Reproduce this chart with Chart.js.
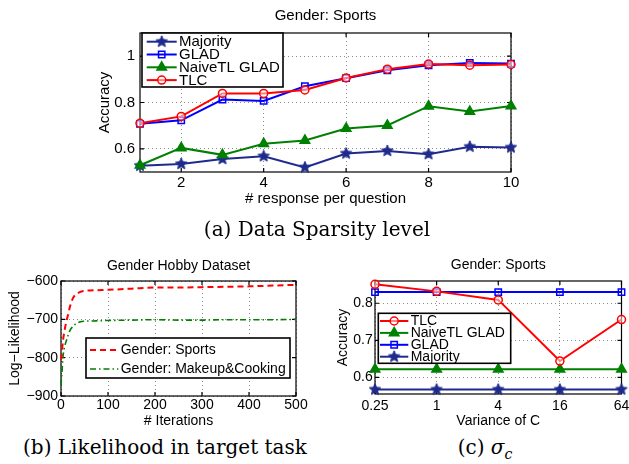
<!DOCTYPE html>
<html>
<head>
<meta charset="utf-8">
<script src="https://cdn.jsdelivr.net/npm/chart.js@4.4.1/dist/chart.umd.min.js"></script>
<style>
  body { margin:0; width:629px; height:464px; background:#fff; overflow:hidden; position:relative; }
  .box { position:absolute; }
  .cap { position:absolute; font-family:"DejaVu Serif", serif; font-size:20px; line-height:20px; color:#000; white-space:nowrap; text-align:center; }
  .cap sub { font-size:14px; line-height:0; }
</style>
</head>
<body>
<div class="box" style="left:0;top:0;width:629px;height:215px"><canvas id="chartA"></canvas></div>
<div class="box" style="left:0;top:240px;width:318px;height:192px"><canvas id="chartB"></canvas></div>
<div class="box" style="left:318px;top:240px;width:311px;height:192px"><canvas id="chartC"></canvas></div>
<div class="cap" style="left:117px;top:219px;width:400px">(a) Data Sparsity level</div>
<div class="cap" style="left:0;top:437px;width:330px">(b) Likelihood in target task</div>
<div class="cap" style="left:400px;top:437px;width:170px">(c) <i>σ</i><sub><i>c</i></sub></div>

<script>
// (a) accuracy vs # responses per question
const respPerQ    = [1, 2, 3, 4, 5, 6, 7, 8, 9, 10];
const accMajority = [0.527, 0.535, 0.556, 0.568, 0.520, 0.580, 0.591, 0.577, 0.609, 0.606];
const accGlad     = [0.708, 0.723, 0.813, 0.807, 0.870, 0.905, 0.939, 0.961, 0.971, 0.968];
const accNaive    = [0.529, 0.604, 0.574, 0.622, 0.636, 0.688, 0.701, 0.784, 0.761, 0.785];
const accTlc      = [0.710, 0.740, 0.839, 0.839, 0.854, 0.906, 0.944, 0.966, 0.961, 0.964];
const xTicksA = [2, 4, 6, 8, 10];
const yTicksA = [0.6, 0.8, 1];

// (b) log-likelihood vs iterations
const iterations = [0, 1, 2, 4, 7, 11, 15, 20, 25, 30, 40, 50, 75, 100, 150, 200, 250, 300, 350, 400, 450, 500];
const llSports   = [-805, -798, -785, -758, -733, -708, -688, -663, -646, -637, -629, -626, -624, -623, -620, -617, -617, -616, -615, -614, -612, -610];
const llMakeup   = [-872, -855, -840, -801, -775, -757, -742, -727, -719, -713, -707, -705, -704, -703, -702, -701, -702, -702, -701, -701, -701, -700];
const xTicksB = [0, 100, 200, 300, 400, 500];
const yTicksB = [-900, -800, -700, -600];

// (c) accuracy vs variance of C
const varianceC  = ['0.25', '1', '4', '16', '64'];
const cTlc       = [0.851, 0.832, 0.809, 0.644, 0.756];
const cNaive     = [0.622, 0.622, 0.622, 0.622, 0.622];
const cGlad      = [0.830, 0.830, 0.830, 0.830, 0.830];
const cMajority  = [0.567, 0.567, 0.567, 0.567, 0.567];
const yTicksC = [0.6, 0.7, 0.8];

const NAVY = '#1f2b8c', BLUE = '#0000ff', GREEN = '#008000', RED = '#ff0000';
const GRID = 'rgba(0,0,0,0.45)';

Chart.defaults.font.family = '"Liberation Sans", Arial, sans-serif';
Chart.defaults.color = '#000';

function starMarker(color, r) {
  const c = document.createElement('canvas');
  const s = Math.ceil(r * 2 + 2);
  c.width = s; c.height = s;
  const g = c.getContext('2d');
  g.beginPath();
  for (let i = 0; i < 10; i++) {
    const rad = i % 2 ? r * 0.45 : r;
    const ang = -Math.PI / 2 + i * Math.PI / 5;
    g.lineTo(s / 2 + rad * Math.cos(ang), s / 2 + rad * Math.sin(ang));
  }
  g.closePath();
  g.fillStyle = color; g.fill();
  g.strokeStyle = color; g.lineWidth = 1; g.stroke();
  return c;
}
const star = starMarker(NAVY, 6);

function pts(xs, ys) {
  return xs.map((x, i) => ({x: x, y: ys[i]}));
}

function setTicks(list) {
  return scale => { scale.ticks = list.map(v => ({value: v})); };
}

// box, inward ticks, title and boxed legend like the matlab figure
const matlabAxes = {
  id: 'matlabAxes',
  beforeDatasetsDraw(chart) {
    const {ctx, chartArea: a, scales} = chart;
    ctx.save();
    ctx.strokeStyle = '#000';
    ctx.lineWidth = 1.2;
    ctx.strokeRect(a.left, a.top, a.width, a.height);
    ctx.beginPath();
    scales.x.ticks.forEach((t, i) => {
      const px = scales.x.getPixelForTick(i);
      ctx.moveTo(px, a.bottom); ctx.lineTo(px, a.bottom - 4);
      ctx.moveTo(px, a.top); ctx.lineTo(px, a.top + 4);
    });
    scales.y.ticks.forEach((t, i) => {
      const py = scales.y.getPixelForTick(i);
      ctx.moveTo(a.left, py); ctx.lineTo(a.left + 4, py);
      ctx.moveTo(a.right, py); ctx.lineTo(a.right - 4, py);
    });
    ctx.stroke();
    ctx.restore();
  },
  afterDraw(chart, args, opts) {
    const {ctx, chartArea: a} = chart;
    ctx.save();
    ctx.font = opts.fontSize + 'px "Liberation Sans", Arial, sans-serif';
    ctx.fillStyle = '#000';
    ctx.textAlign = 'center';
    ctx.textBaseline = 'middle';
    ctx.fillText(opts.title, (a.left + a.right) / 2, opts.titleY);

    const lg = opts.legend;
    const bx = a.left + lg.x, by = a.top + lg.y;
    ctx.fillStyle = '#fff';
    ctx.fillRect(bx, by, lg.w, lg.h);
    ctx.strokeStyle = '#000';
    ctx.lineWidth = 1.6;
    ctx.strokeRect(bx, by, lg.w, lg.h);
    lg.order.forEach((di, row) => {
      const ds = chart.data.datasets[di];
      const y = by + lg.row0 + row * lg.dy;
      const x1 = a.left + lg.line[0], x2 = a.left + lg.line[1];
      ctx.save();
      ctx.strokeStyle = ds.borderColor;
      ctx.lineWidth = ds.borderWidth;
      ctx.setLineDash(ds.borderDash || []);
      ctx.beginPath(); ctx.moveTo(x1, y); ctx.lineTo(x2, y); ctx.stroke();
      ctx.setLineDash([]);
      if (ds.pointRadius > 0) {
        ctx.fillStyle = ds.pointBackgroundColor;
        ctx.strokeStyle = ds.pointBorderColor;
        ctx.lineWidth = ds.pointBorderWidth;
        Chart.helpers.drawPoint(ctx, {pointStyle: ds.pointStyle, radius: ds.pointRadius, rotation: 0, borderWidth: ds.pointBorderWidth}, (x1 + x2) / 2, y);
      }
      ctx.restore();
      ctx.fillStyle = '#000';
      ctx.textAlign = 'left';
      ctx.fillText(ds.label, a.left + lg.textX, y + 0.5);
    });
    ctx.restore();
  }
};

function series(label, data, color, style, radius, fill, order) {
  return {
    label: label, data: data, order: order,
    borderColor: color, borderWidth: 2, backgroundColor: color,
    pointStyle: style, pointRadius: radius, pointBorderWidth: 1.5,
    pointBackgroundColor: fill, pointBorderColor: color,
    clip: false
  };
}

function axis(font, tickPad, title, titlePad) {
  return {
    grid: { color: GRID, lineWidth: 1, drawTicks: false },
    border: { display: false, dash: [1, 3] },
    ticks: { font: {size: font}, padding: tickPad, maxRotation: 0, autoSkip: false },
    title: { display: true, text: title, font: {size: font}, padding: titlePad }
  };
}

// ---------- (a) ----------
const xA = axis(15, 2, '# response per question', {top: 0, bottom: 7});
Object.assign(xA, { type: 'linear', min: 1, max: 10, afterBuildTicks: setTicks(xTicksA),
  afterFit: s => { s.height = 43; s.paddingLeft = 0; s.paddingRight = 0; } });
const yA = axis(15, 5, 'Accuracy', {top: 6, bottom: 0});
Object.assign(yA, { type: 'linear', min: 0.5, max: 1.1, afterBuildTicks: setTicks(yTicksA),
  afterFit: s => { s.width = 50; } });
yA.ticks.callback = v => String(v);

new Chart(document.getElementById('chartA'), {
  type: 'line',
  data: {
    datasets: [
      series('Majority', pts(respPerQ, accMajority), NAVY, star, 6, NAVY, 3),
      series('GLAD', pts(respPerQ, accGlad), BLUE, 'rect', 4.5, 'rgba(255,255,255,0)', 2),
      series('NaiveTL GLAD', pts(respPerQ, accNaive), GREEN, 'triangle', 5.5, GREEN, 1),
      series('TLC', pts(respPerQ, accTlc), RED, 'circle', 4, 'rgba(255,255,255,0.5)', 0)
    ]
  },
  options: {
    responsive: true, maintainAspectRatio: false, animation: false,
    layout: { padding: {left: 90, right: 118, top: 33, bottom: 0} },
    scales: { x: xA, y: yA },
    plugins: {
      legend: { display: false }, tooltip: { enabled: false },
      matlabAxes: {
        title: 'Gender: Sports', titleY: 16, fontSize: 15,
        legend: { x: 2, y: 0, w: 141, h: 54, row0: 8.7, dy: 12.8, line: [6.7, 36.7], textX: 39, order: [0, 1, 2, 3] }
      }
    }
  },
  plugins: [matlabAxes]
});

// ---------- (b) ----------
const xB = axis(14, 1, '# Iterations', {top: 0, bottom: 2});
Object.assign(xB, { type: 'linear', min: 0, max: 500, afterBuildTicks: setTicks(xTicksB),
  afterFit: s => { s.height = 36; s.paddingLeft = 0; s.paddingRight = 0; } });
const yB = axis(14, 3, 'Log\u2212Likelihood', {top: 6.6, bottom: 0});
Object.assign(yB, { type: 'linear', min: -900, max: -600, afterBuildTicks: setTicks(yTicksB),
  afterFit: s => { s.width = 61; } });
yB.ticks.callback = v => String(v).replace('-', '\u2212');

new Chart(document.getElementById('chartB'), {
  type: 'line',
  data: {
    datasets: [
      { label: 'Gender: Sports', data: pts(iterations, llSports), borderColor: RED, borderWidth: 2,
        borderDash: [6, 4], pointRadius: 0, cubicInterpolationMode: 'monotone', clip: false },
      { label: 'Gender: Makeup&Cooking', data: pts(iterations, llMakeup), borderColor: GREEN, borderWidth: 1.6,
        borderDash: [6, 3, 1.5, 3], pointRadius: 0, cubicInterpolationMode: 'monotone', clip: false }
    ]
  },
  options: {
    responsive: true, maintainAspectRatio: false, animation: false,
    layout: { padding: {left: 0, right: 22, top: 41, bottom: 0} },
    scales: { x: xB, y: yB },
    plugins: {
      legend: { display: false }, tooltip: { enabled: false },
      matlabAxes: {
        title: 'Gender Hobby Dataset', titleY: 25.7, fontSize: 14,
        legend: { x: 25, y: 57, w: 204, h: 40, row0: 12, dy: 19, line: [29, 57.3], textX: 59.7, order: [0, 1] }
      }
    }
  },
  plugins: [matlabAxes]
});

// ---------- (c) ----------
const xC = axis(14, 4, 'Variance of C', {top: 0, bottom: 2});
Object.assign(xC, { type: 'category', offset: false,
  afterFit: s => { s.height = 38; s.paddingLeft = 0; s.paddingRight = 0; } });
const yC = axis(14, 2.3, 'Accuracy', {top: 6.3, bottom: 0});
Object.assign(yC, { type: 'linear', min: 0.555, max: 0.86, afterBuildTicks: setTicks(yTicksC),
  afterFit: s => { s.width = 47; } });
yC.ticks.callback = v => String(v);

new Chart(document.getElementById('chartC'), {
  type: 'line',
  data: {
    labels: varianceC,
    datasets: [
      series('TLC', cTlc, RED, 'circle', 4, 'rgba(255,255,255,0.5)', 0),
      series('NaiveTL GLAD', cNaive, GREEN, 'triangle', 5.5, GREEN, 2),
      series('GLAD', cGlad, BLUE, 'rect', 4.5, 'rgba(255,255,255,0)', 1),
      series('Majority', cMajority, NAVY, star, 6, NAVY, 3)
    ]
  },
  options: {
    responsive: true, maintainAspectRatio: false, animation: false,
    layout: { padding: {left: 10, right: 6, top: 41, bottom: 0} },
    scales: { x: xC, y: yC },
    plugins: {
      legend: { display: false }, tooltip: { enabled: false },
      matlabAxes: {
        title: 'Gender: Sports', titleY: 25, fontSize: 14,
        legend: { x: 3.3, y: 32.3, w: 132.4, h: 50, row0: 7.7, dy: 11.9, line: [5, 33.3], textX: 35.7, order: [0, 1, 2, 3] }
      }
    }
  },
  plugins: [matlabAxes]
});
</script>
</body>
</html>
